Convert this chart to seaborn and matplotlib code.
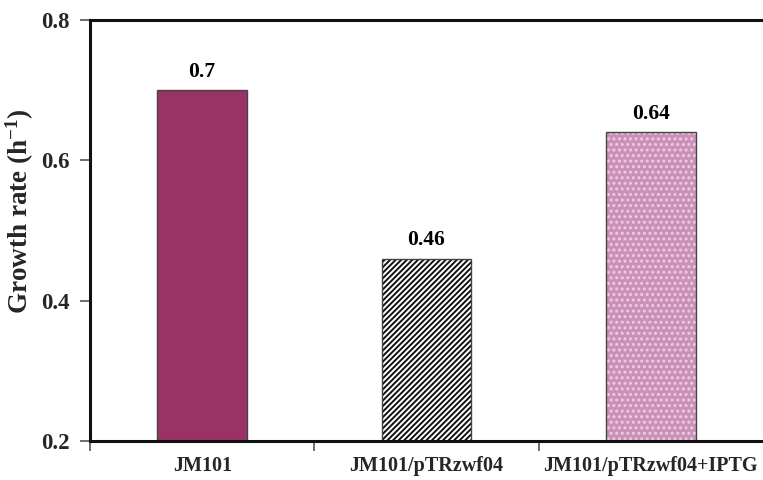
import matplotlib
matplotlib.use("Agg")
import matplotlib.pyplot as plt
import seaborn as sns
import pandas as pd

# Specific growth rates of E. coli JM101 and the plasmid-carrying strain
strains = ["JM101", "JM101/pTRzwf04", "JM101/pTRzwf04+IPTG"]
growth_rate = [0.70, 0.46, 0.64]
value_labels = ["0.7", "0.46", "0.64"]
y_ticks = [0.2, 0.4, 0.6, 0.8]

fill_colors = ["#993366", "#ffffff", "#cc8fb8"]
hatches = [None, "//////", "..."]
hatch_colors = ["#993366", "#111111", "#e9cfe0"]

sns.set_theme(style="white")
plt.rcParams["font.family"] = ["Liberation Serif", "DejaVu Serif"]
plt.rcParams["font.weight"] = "bold"
plt.rcParams["mathtext.fontset"] = "custom"
plt.rcParams["mathtext.rm"] = "Liberation Serif:bold"
plt.rcParams["mathtext.bf"] = "Liberation Serif:bold"
plt.rcParams["mathtext.it"] = "Liberation Serif:bold"
plt.rcParams["hatch.linewidth"] = 1.4

df = pd.DataFrame({"strain": strains, "rate": growth_rate})

fig = plt.figure(figsize=(7.63, 4.80), dpi=100)
ax = fig.add_axes([90 / 763, 1 - 441 / 480, 1 - 90 / 763, (441 - 20) / 480])

# Filled, patterned bars
sns.barplot(data=df, x="strain", y="rate", hue="strain", palette=fill_colors,
            width=0.4, legend=False, ax=ax, saturation=1)
fill_patches = list(ax.patches)
for p, h, hc in zip(fill_patches, hatches, hatch_colors):
    p.set_edgecolor(hc)
    p.set_linewidth(0)
    if h:
        p.set_hatch(h)

# Outlines drawn on top
sns.barplot(data=df, x="strain", y="rate", hue="strain", palette=fill_colors,
            width=0.4, legend=False, ax=ax, saturation=1)
for p in ax.patches[len(fill_patches):]:
    p.set_facecolor("none")
    p.set_edgecolor("#444444")
    p.set_linewidth(1.0)

# Value labels above the bars
for i, (v, lab) in enumerate(zip(growth_rate, value_labels)):
    ax.text(i, v + 0.012, lab, ha="center", va="bottom",
            fontsize=15.5, fontweight="bold", color="black")

ax.set_ylim(0.2, 0.8)
ax.set_xlim(-0.5, 2.5)
ax.set_yticks(y_ticks)
ax.set_yticklabels([f"{t:.1f}" for t in y_ticks], fontsize=16.5, fontweight="bold")

# Category ticks sit at the boundaries; names centred under bars
ax.set_xticks([-0.5, 0.5, 1.5])
ax.set_xticklabels([])
ax.set_xticks([0, 1, 2], minor=True)
ax.set_xticklabels(strains, minor=True, fontsize=14.5, fontweight="bold")
ax.tick_params(axis="x", which="minor", length=0, pad=11)
ax.tick_params(axis="x", which="major", direction="out", length=7, width=1.2,
               color="#555555", bottom=True)
ax.tick_params(axis="y", direction="out", length=7, width=1.2,
               color="#555555", left=True, pad=7.5)

ax.set_xlabel("")
ax.set_ylabel("Growth rate (h$^{-1}$)", fontsize=19.5, fontweight="bold")
ax.yaxis.set_label_coords(-0.08, 0.545)

for side in ["left", "bottom", "top"]:
    ax.spines[side].set_visible(True)
    ax.spines[side].set_color("#111111")
    ax.spines[side].set_linewidth(2.2)
ax.spines["right"].set_visible(False)

fig.savefig("out.png", dpi=100)
